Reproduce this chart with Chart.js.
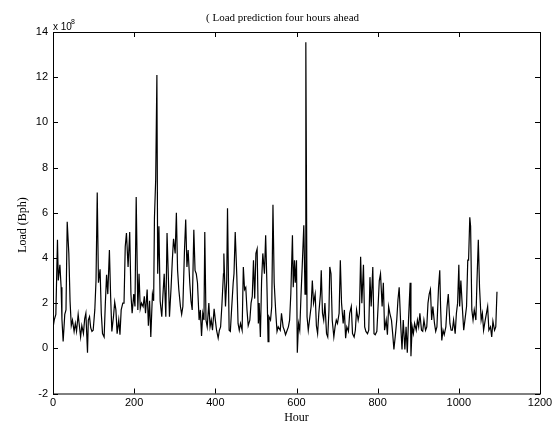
<!DOCTYPE html>
<html>
<head>
<meta charset="utf-8">
<script src="https://cdn.jsdelivr.net/npm/chart.js@4.4.1/dist/chart.umd.min.js"></script>
<style>
  html, body { margin: 0; padding: 0; background: #ffffff; }
  #wrap { width: 560px; height: 421px; position: relative; }
</style>
</head>
<body>
<div id="wrap"><canvas id="loadChart" width="560" height="421"></canvas></div>
<script>
// hour of each point
const hours = [
  0, 3, 7, 11, 13, 17, 20, 22, 25, 29, 32, 35, 39, 42, 45, 48, 52, 55, 58, 62,
  65, 68, 71, 75, 78, 81, 85, 87, 90, 93, 96, 99, 103, 106, 109, 112, 116, 119, 122, 126,
  129, 132, 135, 139, 142, 145, 149, 152, 155, 158, 162, 165, 168, 172, 175, 178, 181, 185, 189, 192,
  195, 199, 202, 205, 209, 212, 215, 218, 222, 225, 228, 232, 235, 238, 241, 245, 248, 250, 253, 256,
  258, 261, 264, 268, 271, 274, 278, 281, 284, 287, 291, 294, 297, 301, 304, 307, 310, 314, 317, 320,
  324, 327, 330, 333, 337, 340, 343, 347, 350, 353, 356, 360, 363, 366, 369, 372, 374, 377, 380, 384,
  387, 390, 393, 397, 400, 403, 407, 410, 413, 416, 420, 421, 425, 428, 430, 434, 437, 440, 444, 446,
  449, 453, 456, 459, 462, 466, 469, 472, 475, 478, 481, 485, 488, 491, 494, 497, 500, 503, 506, 508,
  511, 514, 517, 521, 524, 527, 530, 532, 536, 539, 542, 545, 549, 552, 555, 560, 563, 567, 570, 573,
  577, 580, 583, 586, 590, 592, 595, 597, 600, 602, 605, 608, 611, 614, 618, 621, 623, 626, 629, 632,
  636, 639, 642, 646, 649, 652, 655, 659, 661, 664, 667, 670, 674, 677, 680, 682, 685, 688, 692, 695,
  698, 701, 705, 708, 711, 715, 718, 721, 724, 728, 731, 735, 738, 742, 745, 748, 752, 755, 758, 761,
  765, 768, 771, 775, 778, 781, 784, 788, 791, 794, 798, 801, 804, 807, 811, 814, 817, 821, 824, 827,
  830, 834, 837, 840, 844, 847, 850, 853, 857, 860, 863, 867, 870, 873, 876, 880, 882, 885, 888, 891,
  895, 898, 901, 904, 908, 911, 914, 918, 921, 924, 927, 930, 933, 936, 940, 943, 946, 950, 953, 955,
  958, 961, 964, 968, 971, 974, 978, 981, 984, 987, 991, 994, 997, 1000, 1002, 1005, 1009, 1012, 1015, 1019,
  1022, 1024, 1027, 1029, 1032, 1035, 1038, 1042, 1045, 1048, 1051, 1055, 1058, 1061, 1065, 1068, 1071, 1074, 1078, 1081,
  1084, 1088, 1091, 1094
];

// load in units of 1e8 Bph
const loads = [
  0.9, 1.25, 1.5, 4.8, 3.0, 3.7, 2.7, 1.3, 0.3, 1.5, 1.7, 5.6, 4.2, 2.1, 1.0, 1.25, 0.75, 1.1, 0.75, 1.5,
  1.0, 0.5, 1.0, 0.65, 1.3, 1.55, -0.2, 1.25, 1.4, 0.9, 0.75, 0.8, 1.7, 3.0, 6.9, 2.9, 3.5, 1.55, 0.65, 0.5,
  2.0, 3.25, 2.4, 4.35, 2.3, 0.75, 1.4, 2.05, 1.7, 0.65, 1.25, 0.6, 1.7, 2.0, 2.0, 4.5, 5.1, 3.6, 5.15, 2.4,
  1.55, 2.4, 1.85, 6.7, 1.7, 3.3, 1.75, 2.0, 1.85, 2.3, 1.55, 2.6, 1.0, 2.1, 0.5, 2.4, 2.1, 5.8, 7.45, 12.1,
  3.3, 5.4, 2.1, 1.4, 2.4, 3.3, 1.4, 5.1, 3.3, 1.4, 2.7, 3.9, 4.85, 4.2, 6.0, 3.45, 2.6, 1.85, 1.5, 1.85,
  4.35, 5.7, 3.6, 4.35, 2.9, 2.1, 1.7, 5.25, 3.45, 3.3, 2.9, 1.25, 1.7, 0.55, 1.55, 1.25, 5.15, 1.25, 0.95, 2.0,
  0.95, 1.25, 0.8, 1.75, 1.25, 0.8, 0.45, 0.8, 0.95, 1.85, 3.3, 4.2, 1.85, 3.0, 6.2, 0.8, 0.75, 1.7, 2.9, 3.3,
  5.15, 3.15, 1.1, 0.8, 1.1, 0.8, 3.6, 2.6, 2.7, 1.7, 1.0, 1.25, 2.0, 2.3, 3.9, 2.2, 4.2, 4.4, 1.1, 2.0,
  0.5, 3.0, 4.2, 3.3, 5.0, 2.9, 0.3, 1.4, 1.25, 1.85, 6.35, 2.9, 1.55, 0.75, 0.95, 0.8, 1.55, 0.95, 0.8, 0.6,
  0.8, 0.95, 1.25, 2.4, 5.0, 2.7, 3.9, 2.9, 3.9, -0.2, 1.1, 0.8, 2.3, 3.6, 5.45, 2.4, 13.55, 1.4, 0.8, 1.25,
  1.85, 3.0, 2.0, 2.4, 1.0, 0.65, 1.55, 2.4, 3.45, 1.55, 1.25, 2.0, 0.65, 0.5, 1.7, 3.6, 3.3, 1.25, 0.5, 0.95,
  1.25, 1.1, 1.55, 3.9, 2.0, 1.1, 1.7, 0.45, 0.95, 0.75, 1.55, 1.85, 0.65, 0.5, 0.8, 1.7, 1.25, 1.55, 4.05, 2.0,
  3.7, 0.95, 0.75, 0.65, 0.8, 3.15, 1.85, 3.6, 0.65, 0.6, 0.75, 1.85, 3.0, 3.3, 1.85, 2.9, 0.8, 1.25, 0.6, 1.85,
  1.55, 1.25, 0.65, -0.05, 0.65, 1.25, 2.15, 2.7, 0.95, -0.05, 1.25, -0.05, 0.95, -0.2, 1.25, 2.9, -0.35, 0.95, 0.65, 1.1,
  0.8, 1.25, 0.95, 1.55, 0.8, 0.75, 1.25, 0.8, 0.95, 2.0, 2.4, 2.6, 1.25, 1.85, 1.1, 0.75, 0.95, 2.7, 3.45, 1.85,
  0.35, 0.8, 0.6, 0.95, 1.85, 2.4, 1.1, 0.8, 0.8, 1.25, 0.65, 1.55, 2.0, 3.7, 1.85, 3.0, 1.7, 0.8, 1.25, 1.85,
  3.9, 3.9, 5.8, 5.4, 1.7, 1.25, 1.7, 1.25, 3.15, 4.8, 2.7, 1.25, 1.55, 0.8, 1.25, 1.55, 1.85, 0.8, 0.95, 0.5,
  1.2, 0.8, 0.95, 2.5
];

const xTicks = [0, 200, 400, 600, 800, 1000, 1200];
const yTicks = [-2, 0, 2, 4, 6, 8, 10, 12, 14];

const sansFont = '"Liberation Sans", Arial, sans-serif';
const serifFont = '"Liberation Serif", "Times New Roman", serif';

// MATLAB style box with inward ticks on all four sides, plus the text around the axes
const matlabFrame = {
  id: 'matlabFrame',
  afterDraw(chart) {
    const { ctx, chartArea: a, scales } = chart;
    ctx.save();
    ctx.strokeStyle = '#000';
    ctx.lineWidth = 1;
    ctx.strokeRect(a.left + 0.5, a.top + 0.5, a.right - a.left, a.bottom - a.top);
    ctx.beginPath();
    xTicks.forEach(v => {
      const px = Math.round(scales.x.getPixelForValue(v)) + 0.5;
      ctx.moveTo(px, a.bottom); ctx.lineTo(px, a.bottom - 5);
      ctx.moveTo(px, a.top); ctx.lineTo(px, a.top + 5);
    });
    yTicks.forEach(v => {
      const py = Math.round(scales.y.getPixelForValue(v)) + 0.5;
      ctx.moveTo(a.left, py); ctx.lineTo(a.left + 5, py);
      ctx.moveTo(a.right, py); ctx.lineTo(a.right - 5, py);
    });
    ctx.stroke();

    ctx.fillStyle = '#000';
    ctx.textBaseline = 'middle';

    // title
    ctx.font = '11px ' + serifFont;
    ctx.textAlign = 'left';
    ctx.fillText('( Load prediction four hours ahead', 206, 18);

    // exponent
    ctx.font = '10px ' + sansFont;
    ctx.fillText('x 10', 53, 27);
    ctx.font = '7px ' + sansFont;
    ctx.fillText('8', 71, 22);

    // axis titles
    ctx.font = '12px ' + serifFont;
    ctx.textAlign = 'center';
    ctx.fillText('Hour', (a.left + a.right) / 2, 418);
    ctx.translate(23, 225);
    ctx.rotate(-Math.PI / 2);
    ctx.fillText('Load (Bph)', 0, 0);
    ctx.restore();
  }
};

new Chart(document.getElementById('loadChart'), {
  type: 'line',
  data: {
    datasets: [{
      data: hours.map((h, i) => ({ x: h, y: loads[i] })),
      borderColor: '#000',
      borderWidth: 1.2,
      pointRadius: 0,
      tension: 0,
      fill: false
    }]
  },
  options: {
    responsive: false,
    animation: false,
    devicePixelRatio: 1,
    layout: { padding: { top: 32, right: 20, left: 0, bottom: 0 } },
    plugins: { legend: { display: false }, tooltip: { enabled: false }, title: { display: false } },
    scales: {
      x: {
        type: 'linear',
        min: 0,
        max: 1200,
        afterFit: s => { s.height = 27.5; },
        afterBuildTicks: s => { s.ticks = xTicks.map(v => ({ value: v })); },
        grid: { display: false, drawTicks: false },
        border: { display: false },
        ticks: { color: '#000', padding: 3, maxRotation: 0, callback: v => String(v), font: { family: sansFont, size: 11 } }
      },
      y: {
        type: 'linear',
        min: -2,
        max: 14,
        afterFit: s => { s.width = 53; },
        afterBuildTicks: s => { s.ticks = yTicks.map(v => ({ value: v })); },
        grid: { display: false, drawTicks: false },
        border: { display: false },
        ticks: { color: '#000', padding: 5, callback: v => String(v), font: { family: sansFont, size: 11 } }
      }
    }
  },
  plugins: [matlabFrame]
});
</script>
</body>
</html>
